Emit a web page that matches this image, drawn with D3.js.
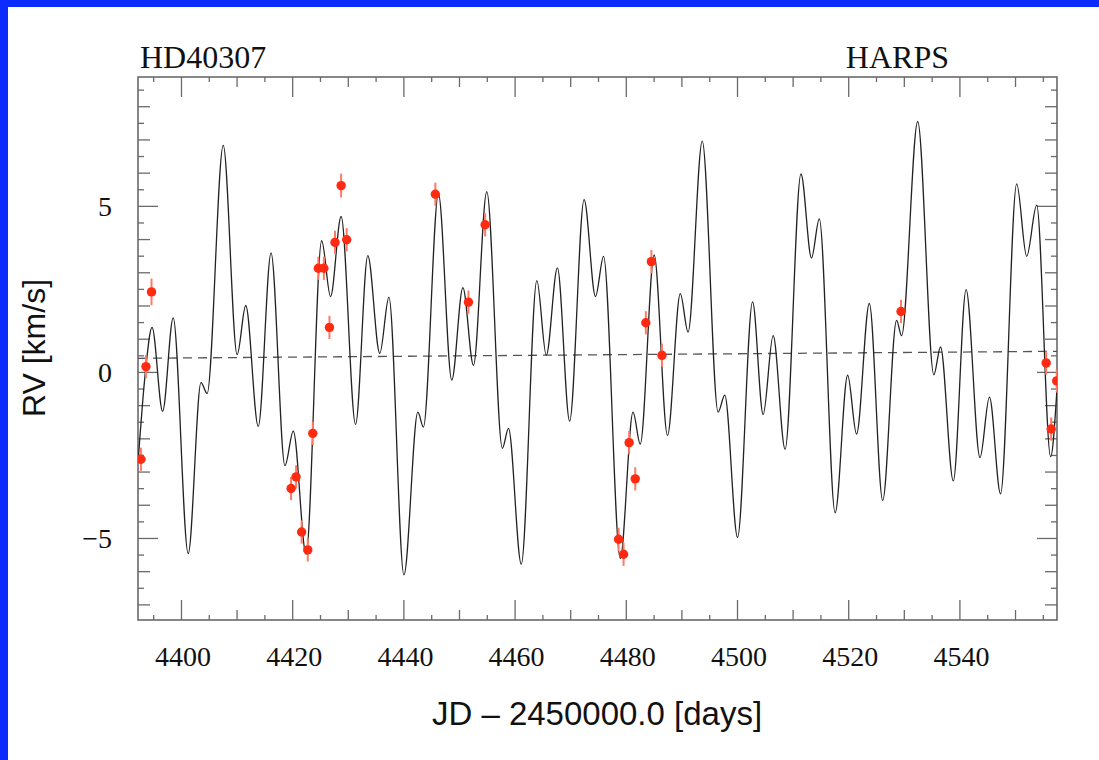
<!DOCTYPE html>
<html>
<head>
<meta charset="utf-8">
<script src="https://cdn.jsdelivr.net/npm/d3@7"></script>
<style>
  html, body { margin: 0; padding: 0; background: #fff; }
  svg { display: block; }
</style>
</head>
<body>
<svg id="chart" width="1099" height="760"></svg>
<script>
// HARPS radial velocities of HD40307 with the multi-planet orbital model

// Orbital model curve, sampled at its turning points (days, km/s)
const modelT = [4392.27, 4393.6, 4394.8, 4396.7, 4398.6, 4401.3, 4403.6, 4404.7, 4407.6, 4410.1,
  4411.65, 4413.9, 4416.2, 4418.7, 4420.2, 4422.5, 4425.3, 4426.9, 4428.8, 4431.4,
  4433.6, 4435.75, 4437.4, 4440.1, 4442.6, 4443.6, 4446.3, 4448.7, 4450.7, 4452.6,
  4455.0, 4457.8, 4458.9, 4461.2, 4464.0, 4465.7, 4467.7, 4469.9, 4472.5, 4474.55,
  4476.0, 4479.0, 4481.3, 4482.6, 4485.1, 4487.5, 4489.8, 4491.2, 4493.75, 4496.6,
  4497.8, 4500.1, 4502.8, 4504.7, 4506.5, 4508.65, 4511.5, 4513.4, 4514.8, 4517.65,
  4519.9, 4521.5, 4523.8, 4526.2, 4528.7, 4529.6, 4532.5, 4535.4, 4536.6, 4538.9,
  4541.2, 4543.7, 4545.4, 4547.4, 4550.3, 4552.1, 4553.9, 4556.4, 4557.55];
const modelRV = [-2.75, 0.0, 1.34, -1.19, 1.63, -5.47, -0.32, -0.65, 6.82, 0.52,
  2.0, -1.64, 3.58, -2.82, -1.78, -5.49, 3.95, 2.27, 4.68, -1.58,
  3.50, 0.56, 2.25, -6.11, -1.21, -1.66, 5.37, -0.25, 2.54, 0.20,
  5.43, -2.30, -1.70, -5.79, 2.75, 0.50, 3.13, -1.48, 5.19, 2.27,
  3.48, -5.62, -1.21, -2.17, 3.52, -1.91, 2.36, 1.20, 6.95, -1.21,
  -0.70, -4.98, 2.11, -1.28, 1.09, -2.33, 5.96, 3.43, 4.61, -4.24,
  -0.10, -1.87, 2.06, -3.87, 1.55, 1.09, 7.54, -0.09, 0.75, -3.28,
  2.48, -2.58, -0.76, -3.67, 5.66, 3.48, 5.02, -2.55, -0.5];

// Measured velocities with their uncertainties
const obsT = [4392.8, 4393.7, 4394.7, 4419.8, 4420.7, 4421.7, 4422.8, 4423.7, 4424.7, 4425.7,
  4426.7, 4427.7, 4428.8, 4429.8, 4445.75, 4451.7, 4454.7, 4478.7, 4479.6, 4480.6,
  4481.7, 4483.6, 4484.6, 4486.5, 4529.5, 4555.6, 4556.5, 4557.5];
const obsRV = [-2.63, 0.16, 2.41, -3.51, -3.16, -4.82, -5.36, -1.85, 3.12, 3.12,
  1.34, 3.90, 5.61, 3.98, 5.35, 2.10, 4.43, -5.04, -5.49, -2.13,
  -3.22, 1.48, 3.32, 0.50, 1.82, 0.27, -1.72, -0.27];
const obsErr = [0.35, 0.35, 0.4, 0.35, 0.35, 0.35, 0.35, 0.35, 0.35, 0.35,
  0.35, 0.35, 0.36, 0.35, 0.35, 0.35, 0.35, 0.35, 0.35, 0.35,
  0.35, 0.35, 0.35, 0.35, 0.35, 0.35, 0.35, 0.35];

// Long-term linear drift (dashed)
const trendT = [4392.27, 4557.55];
const trendRV = [0.41, 0.62];

// Axis ranges and labels
const xDomain = [4392.27, 4557.55];
const yDomain = [-7.47, 8.88];
const xLabels = [4400, 4420, 4440, 4460, 4480, 4500, 4520, 4540];
const yLabels = [-5, 0, 5];

const svg = d3.select("#chart");
const W = 1099, H = 760;
const plot = { left: 138, right: 1057, top: 77, bottom: 620 };

// Blue slide border
svg.append("rect").attr("x", 0).attr("y", 0).attr("width", W).attr("height", 7).attr("fill", "#0c2cff");
svg.append("rect").attr("x", 0).attr("y", 0).attr("width", 8).attr("height", H).attr("fill", "#0c2cff");

const x = d3.scaleLinear().domain(xDomain).range([plot.left, plot.right]);
const y = d3.scaleLinear().domain(yDomain).range([plot.bottom, plot.top]);

svg.append("defs").append("clipPath").attr("id", "plotClip")
  .append("rect")
  .attr("x", plot.left).attr("y", plot.top)
  .attr("width", plot.right - plot.left).attr("height", plot.bottom - plot.top);

const tickColor = "#6a6a6a";

// Tick tiers on the x axis: every 20, 10 and 5 days
const xTicksAll = d3.range(4395, 4556, 5);
const xTiers = [
  { vals: xTicksAll.filter(v => v % 20 === 0), len: 20 },
  { vals: xTicksAll.filter(v => v % 20 !== 0 && v % 10 === 0), len: 10 },
  { vals: xTicksAll.filter(v => v % 10 !== 0), len: 5 }
];
// Tick tiers on the y axis: every 5, 1 and 0.5 km/s
const yTicksAll = d3.range(-7, 8.75, 0.5);
const yTiers = [
  { vals: yTicksAll.filter(v => v % 5 === 0), len: 20 },
  { vals: yTicksAll.filter(v => v % 5 !== 0 && Number.isInteger(v)), len: 12 },
  { vals: yTicksAll.filter(v => !Number.isInteger(v)), len: 6 }
];

function styleTicks(g) {
  g.select(".domain").remove();
  g.selectAll(".tick line").attr("stroke", tickColor).attr("stroke-width", 1.3);
  g.selectAll(".tick text").remove();
}

xTiers.forEach(t => {
  svg.append("g").attr("transform", `translate(0,${plot.bottom})`)
    .call(d3.axisBottom(x).tickValues(t.vals).tickSize(-t.len).tickFormat(""))
    .call(styleTicks);
  svg.append("g").attr("transform", `translate(0,${plot.top})`)
    .call(d3.axisTop(x).tickValues(t.vals).tickSize(-t.len).tickFormat(""))
    .call(styleTicks);
});
yTiers.forEach(t => {
  svg.append("g").attr("transform", `translate(${plot.left},0)`)
    .call(d3.axisLeft(y).tickValues(t.vals).tickSize(-t.len).tickFormat(""))
    .call(styleTicks);
  svg.append("g").attr("transform", `translate(${plot.right},0)`)
    .call(d3.axisRight(y).tickValues(t.vals).tickSize(-t.len).tickFormat(""))
    .call(styleTicks);
});

// Frame
svg.append("rect")
  .attr("x", plot.left).attr("y", plot.top)
  .attr("width", plot.right - plot.left).attr("height", plot.bottom - plot.top)
  .attr("fill", "none").attr("stroke", tickColor).attr("stroke-width", 1.6);

// Tick labels
const serif = "'Liberation Serif', 'Times New Roman', serif";
const sans = "'Liberation Sans', Arial, Helvetica, sans-serif";

svg.append("g").selectAll("text").data(xLabels).join("text")
  .attr("x", d => x(d) + 2).attr("y", 666)
  .attr("text-anchor", "middle")
  .attr("font-family", serif).attr("font-size", 28).attr("fill", "#111")
  .text(d => d);

svg.append("g").selectAll("text").data(yLabels).join("text")
  .attr("x", 112).attr("y", d => y(d) + 10)
  .attr("text-anchor", "end")
  .attr("font-family", serif).attr("font-size", 28).attr("fill", "#111")
  .text(d => d < 0 ? "\u2212" + Math.abs(d) : d);

// Titles
svg.append("text").attr("x", 140).attr("y", 68)
  .attr("font-family", serif).attr("font-size", 32).attr("fill", "#111")
  .text("HD40307");
svg.append("text").attr("x", 949).attr("y", 68).attr("text-anchor", "end")
  .attr("font-family", serif).attr("font-size", 32).attr("fill", "#111")
  .text("HARPS");

svg.append("text").attr("x", 597).attr("y", 725)
  .attr("text-anchor", "middle")
  .attr("font-family", sans).attr("font-size", 33).attr("fill", "#111")
  .text("JD \u2013 2450000.0 [days]");

svg.append("text").attr("transform", "translate(45,348) rotate(-90)")
  .attr("text-anchor", "middle")
  .attr("font-family", sans).attr("font-size", 32).attr("fill", "#111")
  .text("RV [km/s]");

const inner = svg.append("g").attr("clip-path", "url(#plotClip)");

// Linear drift
inner.append("path")
  .datum(trendT.map((t, i) => [t, trendRV[i]]))
  .attr("d", d3.line().x(d => x(d[0])).y(d => y(d[1])))
  .attr("fill", "none").attr("stroke", "#555").attr("stroke-width", 1.3)
  .attr("stroke-dasharray", "9,6");

// Model curve
inner.append("path")
  .datum(modelT.map((t, i) => [t, modelRV[i]]))
  .attr("d", d3.line().x(d => x(d[0])).y(d => y(d[1])).curve(d3.curveMonotoneX))
  .attr("fill", "none").attr("stroke", "#222").attr("stroke-width", 1.3);

// Observations: error bars then points
const obs = obsT.map((t, i) => ({ t, v: obsRV[i], e: obsErr[i] }));
inner.append("g").selectAll("line").data(obs).join("line")
  .attr("x1", d => x(d.t)).attr("x2", d => x(d.t))
  .attr("y1", d => y(d.v - d.e)).attr("y2", d => y(d.v + d.e))
  .attr("stroke", "#ff7a66").attr("stroke-width", 2);
inner.append("g").selectAll("circle").data(obs).join("circle")
  .attr("cx", d => x(d.t)).attr("cy", d => y(d.v))
  .attr("r", 4.7).attr("fill", "#ff2a10");
</script>
</body>
</html>
